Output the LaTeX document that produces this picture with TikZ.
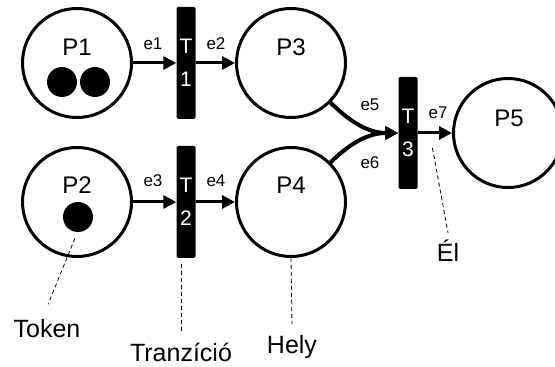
\documentclass[tikz,border=0pt]{standalone}
\usepackage{fontspec}
\setmainfont{Liberation Sans}
\usetikzlibrary{arrows.meta}
\begin{document}
\begin{tikzpicture}[x=1pt,y=1pt,
    place/.style={circle,draw,line width=3pt,minimum size=109pt,inner sep=0pt},
    token/.style={circle,fill,minimum size=30pt,inner sep=0pt},
    trans/.style={rectangle,fill=black,rounded corners=1.5pt,minimum width=19pt,minimum height=112pt,
        inner sep=0pt,text=white,align=center,font=\fontsize{21}{33}\selectfont},
    arc/.style={line width=3pt,-{Triangle[length=13pt,width=13pt]}},
    plbl/.style={font=\fontsize{24}{28}\selectfont},
    elbl/.style={font=\fontsize{17}{20}\selectfont},
    note/.style={font=\fontsize{25}{30}\selectfont,anchor=base},
    pointer/.style={line width=0.8pt,dash pattern=on 4pt off 3pt}]
    \useasboundingbox (0,0) rectangle (555,367);
    % places
    \node[place] (P1) at (77,304) {};
    \node[place] (P2) at (77,165) {};
    \node[place] (P3) at (291,304) {};
    \node[place] (P4) at (291,165) {};
    \node[place] (P5) at (508,234) {};
    \node[plbl] at (77,320) {P1};
    \node[plbl] at (77,182) {P2};
    \node[plbl] at (291,320) {P3};
    \node[plbl] at (291,182) {P4};
    \node[plbl] at (509,249) {P5};
    % tokens
    \node[token] (k1) at (62,285) {};
    \node[token] (k2) at (95,285) {};
    \node[token] (k3) at (78,150) {};
    % transitions
    \node[trans] (T1) at (186,304) {T\\1};
    \node[trans] (T2) at (186,165) {T\\2};
    \node[trans] (T3) at (408,234) {T\\3};
    % arcs
    \draw[arc] (P1) -- (T1);
    \draw[arc] (T1) -- (P3);
    \draw[arc] (P2) -- (T2);
    \draw[arc] (T2) -- (P4);
    \draw[arc,line width=4pt] (P3.-45) to[out=-45,in=180] (T3.west);
    \draw[arc,line width=4pt] (P4.45) to[out=45,in=180] (T3.west);
    \draw[arc] (T3) -- coordinate[pos=0.43] (e7pt) (P5);
    \node[elbl] at (153,323) {e1};
    \node[elbl] at (216,323) {e2};
    \node[elbl] at (153,186) {e3};
    \node[elbl] at (216,186) {e4};
    \node[elbl] at (370,262) {e5};
    \node[elbl] at (370,204) {e6};
    \node[elbl] at (438,254) {e7};
    % notes
    \node[note] (tok) at (47,29) {Token};
    \node[note] (tra) at (181,5) {Tranzíció};
    \node[note] (hel) at (292,13) {Hely};
    \node[note] (el) at (448,105) {Él};
    \draw[pointer] ([shift={(-3,-6)}]k3.south) -- ([shift={(1,12)}]tok.north);
    \draw[pointer] ([shift={(-5,-6)}]T2.south) -- ([yshift=8pt]tra.north);
    \draw[pointer] (P4.south) -- ([yshift=8pt]hel.north);
    \draw[pointer] ([yshift=-15pt]e7pt) -- ([yshift=4pt]el.north);
\end{tikzpicture}
\end{document}
